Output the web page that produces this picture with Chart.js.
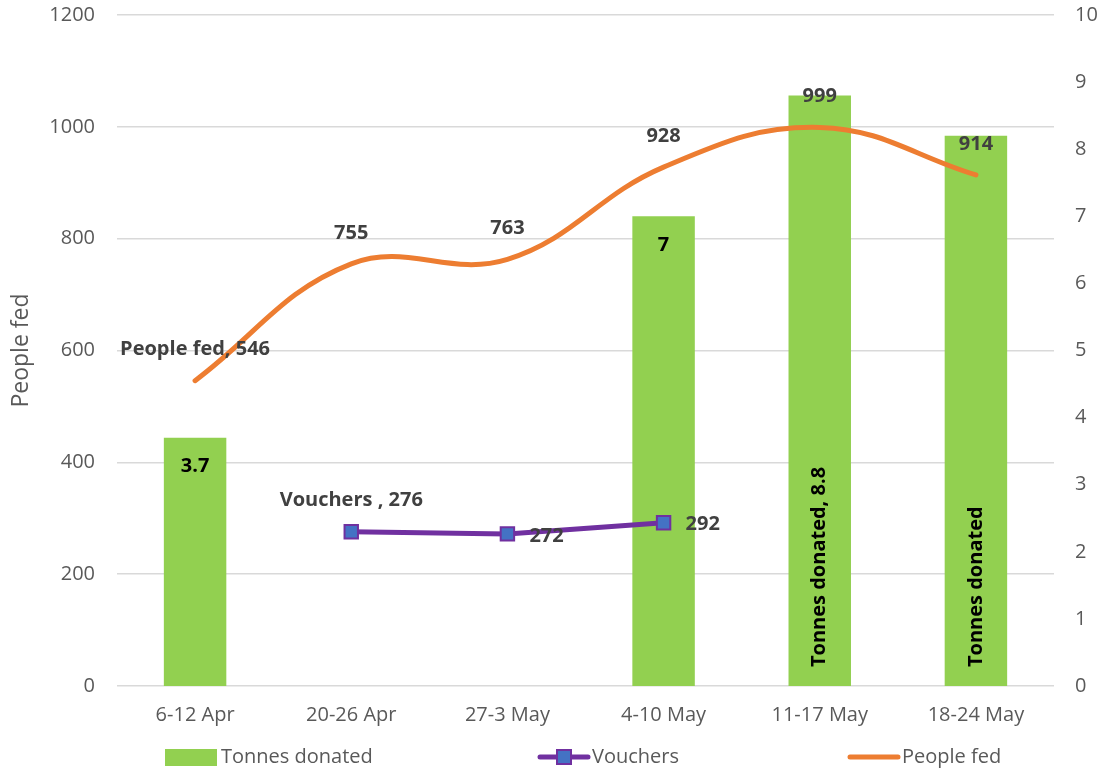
<!DOCTYPE html>
<html>
<head>
<meta charset="utf-8">
<script src="https://cdn.jsdelivr.net/npm/chart.js@4.4.1/dist/chart.umd.min.js"></script>
<style>
  html, body { margin: 0; padding: 0; background: #fff; }
  #wrap { width: 1107px; height: 768px; }
</style>
</head>
<body>
<div id="wrap"><canvas id="c" width="1107" height="768"></canvas></div>
<script>
// ---- data ----
const categories = ['6-12 Apr', '20-26 Apr', '27-3 May', '4-10 May', '11-17 May', '18-24 May'];
const tonnesDonated = [3.7, null, null, 7, 8.8, 8.2];
const tonnesLabels = ['3.7', null, null, '7', 'Tonnes donated, 8.8', 'Tonnes donated'];
const vouchers = [null, 276, 272, 292, null, null];
const vouchersLabels = [null, 'Vouchers , 276', '272', '292', null, null];
const peopleFed = [546, 755, 763, 928, 999, 914];
const peopleLabels = ['People fed, 546', '755', '763', '928', '999', '914'];
const leftTicks = [0, 200, 400, 600, 800, 1000, 1200];
const rightTicks = [0, 1, 2, 3, 4, 5, 6, 7, 8, 9, 10];

const GREEN = '#92D050', ORANGE = '#ED7D31', PURPLE = '#7030A0', BLUE = '#4472C4';
const FONT = "'Open Sans', 'DejaVu Sans', sans-serif";
const TXT = '#595959';

const labelsPlugin = {
  id: 'labels',
  afterDatasetsDraw(chart) {
    const ctx = chart.ctx;
    ctx.save();
    ctx.font = "bold 20px " + FONT;
    ctx.textBaseline = 'middle';
    // bars
    const bm = chart.getDatasetMeta(0);
    bm.data.forEach((bar, i) => {
      const t = tonnesLabels[i];
      if (t == null || tonnesDonated[i] == null) return;
      ctx.fillStyle = '#000';
      if (t.length > 6) {
        ctx.save();
        ctx.translate(bar.x, bar.base - 19);
        ctx.rotate(-Math.PI / 2);
        ctx.textAlign = 'left';
        ctx.fillText(t, 0, 0);
        ctx.restore();
      } else {
        ctx.textAlign = 'center';
        ctx.fillText(t, bar.x, bar.y + 29);
      }
    });
    // vouchers
    const vm = chart.getDatasetMeta(1);
    ctx.fillStyle = '#404040';
    vm.data.forEach((pt, i) => {
      const t = vouchersLabels[i];
      if (t == null || vouchers[i] == null) return;
      if (t.length > 5) {
        ctx.textAlign = 'center';
        ctx.fillText(t, pt.x, pt.y - 31);
      } else {
        ctx.textAlign = 'left';
        ctx.fillText(t, pt.x + 22, pt.y + 2);
      }
    });
    // people fed
    const pm = chart.getDatasetMeta(2);
    pm.data.forEach((pt, i) => {
      const t = peopleLabels[i];
      if (t == null) return;
      ctx.textAlign = 'center';
      ctx.fillText(t, pt.x, pt.y - 31);
    });
    ctx.restore();
  }
};

const legendPlugin = {
  id: 'customLegend',
  afterDraw(chart) {
    const ctx = chart.ctx;
    const y = 757;
    ctx.save();
    ctx.font = "20px " + FONT;
    ctx.fillStyle = TXT;
    ctx.textBaseline = 'middle';
    ctx.textAlign = 'left';
    // Tonnes donated
    ctx.fillStyle = GREEN;
    ctx.fillRect(165, y - 8, 52, 17);
    ctx.fillStyle = TXT;
    ctx.fillText(chart.data.datasets[0].label, 221, y);
    // Vouchers
    ctx.strokeStyle = PURPLE;
    ctx.lineWidth = 5;
    ctx.lineCap = 'round';
    ctx.beginPath(); ctx.moveTo(540, y); ctx.lineTo(588, y); ctx.stroke();
    ctx.fillStyle = BLUE;
    ctx.fillRect(557, y - 7, 14, 14);
    ctx.lineWidth = 2;
    ctx.strokeRect(557, y - 7, 14, 14);
    ctx.fillStyle = TXT;
    ctx.fillText(chart.data.datasets[1].label.trim(), 592, y);
    // People fed
    ctx.strokeStyle = ORANGE;
    ctx.lineWidth = 5;
    ctx.beginPath(); ctx.moveTo(850, y); ctx.lineTo(898, y); ctx.stroke();
    ctx.fillStyle = TXT;
    ctx.fillText(chart.data.datasets[2].label, 902, y);
    ctx.restore();
  }
};

function noPad(s) { s.paddingTop = 0; s.paddingBottom = 0; s.paddingLeft = 0; s.paddingRight = 0; }

new Chart(document.getElementById('c'), {
  data: {
    labels: categories,
    datasets: [
      {
        type: 'bar', label: 'Tonnes donated', data: tonnesDonated, yAxisID: 'y2',
        backgroundColor: GREEN, barPercentage: 0.4, categoryPercentage: 1, order: 10
      },
      {
        type: 'line', label: 'Vouchers ', data: vouchers, yAxisID: 'y',
        borderColor: PURPLE, borderWidth: 5, tension: 0,
        pointStyle: 'rect', pointRadius: 9.5, pointBackgroundColor: BLUE,
        pointBorderColor: PURPLE, pointBorderWidth: 2, order: 1
      },
      {
        type: 'line', label: 'People fed', data: peopleFed, yAxisID: 'y',
        borderColor: ORANGE, borderWidth: 5, tension: 0.4, borderCapStyle: 'round',
        pointRadius: 0, order: 2
      }
    ]
  },
  options: {
    responsive: false,
    animation: false,
    layout: { padding: { top: 15, left: 0, right: 0, bottom: 0 } },
    plugins: { legend: { display: false }, tooltip: { enabled: false } },
    scales: {
      x: {
        grid: { display: false, drawTicks: false },
        border: { display: false },
        ticks: { color: TXT, font: { family: FONT, size: 20 }, padding: 17, maxRotation: 0 },
        afterFit(s) { s.height = 82; noPad(s); }
      },
      y: {
        position: 'left', min: 0, max: 1200,
        afterBuildTicks(s) { s.ticks = leftTicks.map(v => ({ value: v })); },
        grid: { color: '#d9d9d9', lineWidth: 1.5, drawTicks: false },
        border: { display: false },
        ticks: { color: TXT, font: { family: FONT, size: 20 }, padding: 22, callback: v => String(v) },
        title: { display: true, text: 'People fed', color: TXT, font: { family: FONT, size: 23 }, padding: { top: 8, bottom: 0 } },
        afterFit(s) { s.width = 117; noPad(s); }
      },
      y2: {
        position: 'right', min: 0, max: 10,
        afterBuildTicks(s) { s.ticks = rightTicks.map(v => ({ value: v })); },
        grid: { display: false, drawTicks: false },
        border: { display: false },
        ticks: { color: TXT, font: { family: FONT, size: 20 }, padding: 21, callback: v => String(v) },
        afterFit(s) { s.width = 53; noPad(s); }
      }
    }
  },
  plugins: [labelsPlugin, legendPlugin]
});
</script>
</body>
</html>
